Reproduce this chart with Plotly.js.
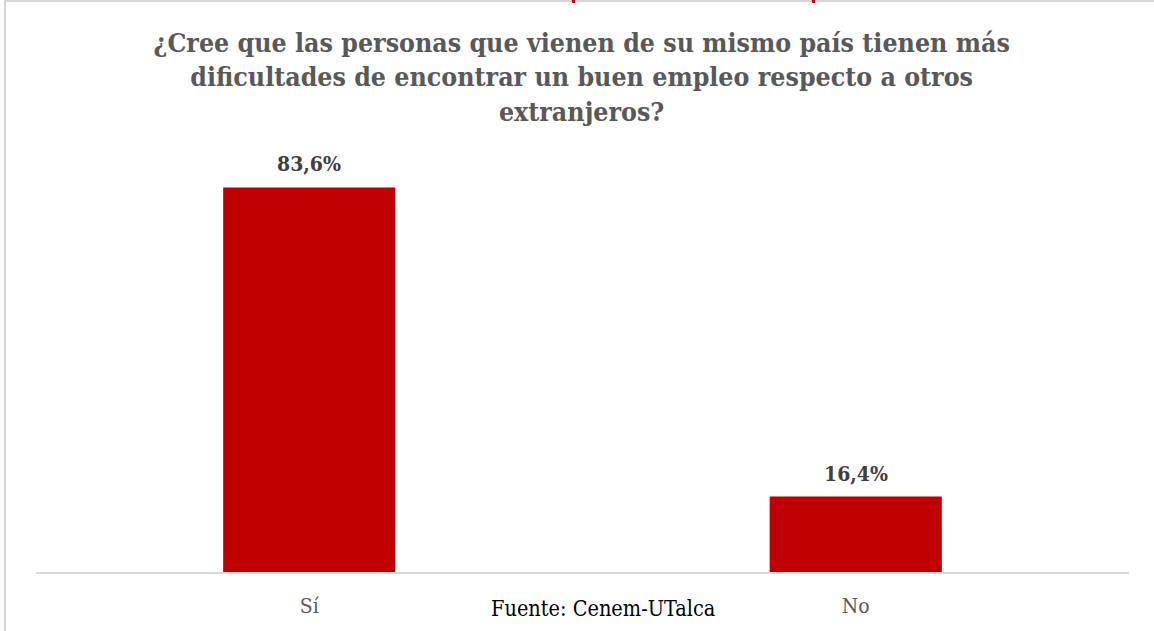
<!DOCTYPE html>
<html>
<head>
<meta charset="utf-8">
<script src="https://cdn.plot.ly/plotly-3.0.1.min.js"></script>
<style>
  html, body { margin: 0; padding: 0; background: #fff; }
  #wrap { position: relative; width: 1154px; height: 631px; overflow: hidden; }
  #chart { position: absolute; left: 0; top: 0; width: 1154px; height: 631px; }
  #frame { position: absolute; left: 4px; top: 0px; width: 1200px; height: 700px; border: 2px solid #d6d6d6; box-sizing: border-box; pointer-events: none; z-index: 5; }
  .red { position: absolute; top: 0; width: 3px; height: 3px; background: #e00000; z-index: 6; }
</style>
</head>
<body>
<div id="wrap">
  <div id="chart"></div>
  <div id="frame"></div>
  <div class="red" style="left:572px"></div>
  <div class="red" style="left:812px"></div>
</div>
<script>
const categories = ["Sí", "No"];
const values = [83.6, 16.4];
const titleText = "¿Cree que las personas que vienen de su mismo país tienen más<br>dificultades de encontrar un buen empleo respecto a otros<br>extranjeros?";
const sourceText = "Fuente: Cenem-UTalca";

const fmt = v => v.toFixed(1).replace('.', ',') + '%';
const serif = 'DejaVu Serif Condensed, DejaVu Serif, serif';

const trace = {
  type: 'bar',
  x: categories,
  y: values,
  marker: { color: '#c00000' },
  hoverinfo: 'none'
};

const annotations = categories.map((c, i) => ({
  x: c, y: values[i], xref: 'x', yref: 'y',
  text: '<b>' + fmt(values[i]) + '</b>',
  showarrow: false, yanchor: 'bottom', yshift: 9,
  font: { family: serif, size: 21, color: '#404040' }
}));
annotations.push({
  xref: 'paper', yref: 'paper', x: 0.519, y: 0, yanchor: 'top', yshift: -22,
  text: sourceText, showarrow: false,
  font: { family: serif, size: 21.5, color: '#000000' }
});

const layout = {
  width: 1154, height: 631,
  margin: { l: 36, r: 25, t: 112, b: 59 },
  paper_bgcolor: 'rgba(0,0,0,0)',
  plot_bgcolor: 'rgba(0,0,0,0)',
  bargap: 0.685,
  showlegend: false,
  title: {
    text: '<b>' + titleText + '</b>',
    x: 0.504, xanchor: 'center',
    y: 1 - 52 / 631, yanchor: 'top', yref: 'container',
    font: { family: serif, size: 26.5, color: '#595959' }
  },
  xaxis: {
    showline: true, linecolor: '#d9d9d9', linewidth: 2,
    ticks: '', showgrid: false, zeroline: false,
    tickfont: { family: serif, size: 21, color: '#595959' },
    ticklabelstandoff: 14
  },
  yaxis: {
    range: [0, 100], visible: false, showgrid: false, zeroline: false
  },
  annotations: annotations
};

Plotly.newPlot('chart', [trace], layout, { displayModeBar: false, staticPlot: true });
</script>
</body>
</html>
